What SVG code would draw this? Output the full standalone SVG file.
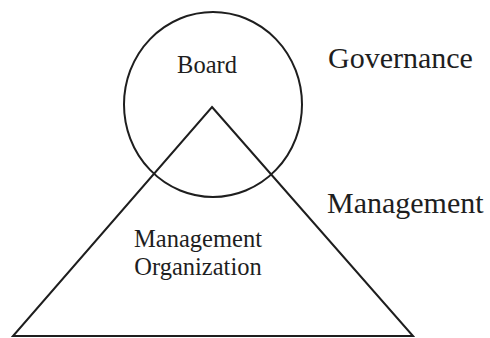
<svg xmlns="http://www.w3.org/2000/svg" width="490" height="338" viewBox="0 0 490 338">
  <style>
    .shape { fill: none; stroke: #1e1e1e; stroke-width: 2; }
    .label { font-family: "Liberation Serif", "Times New Roman", serif; fill: #1e1e1e; }
    .inner { font-size: 24.5px; }
    .side { font-size: 30px; }
  </style>
  <rect width="490" height="338" fill="#ffffff"/>
  <g id="management-organization">
    <polygon class="shape" points="212,107 413,336 13,336"/>
    <text class="label inner" x="198" y="247" text-anchor="middle">Management</text>
    <text class="label inner" x="198" y="275" text-anchor="middle">Organization</text>
  </g>
  <g id="board">
    <ellipse class="shape" cx="213" cy="104.5" rx="89" ry="92.5"/>
    <text class="label inner" x="207" y="73" text-anchor="middle">Board</text>
  </g>
  <g id="governance-label">
    <text class="label side" x="328" y="68">Governance</text>
  </g>
  <g id="management-label">
    <text class="label side" x="327" y="213">Management</text>
  </g>
</svg>
